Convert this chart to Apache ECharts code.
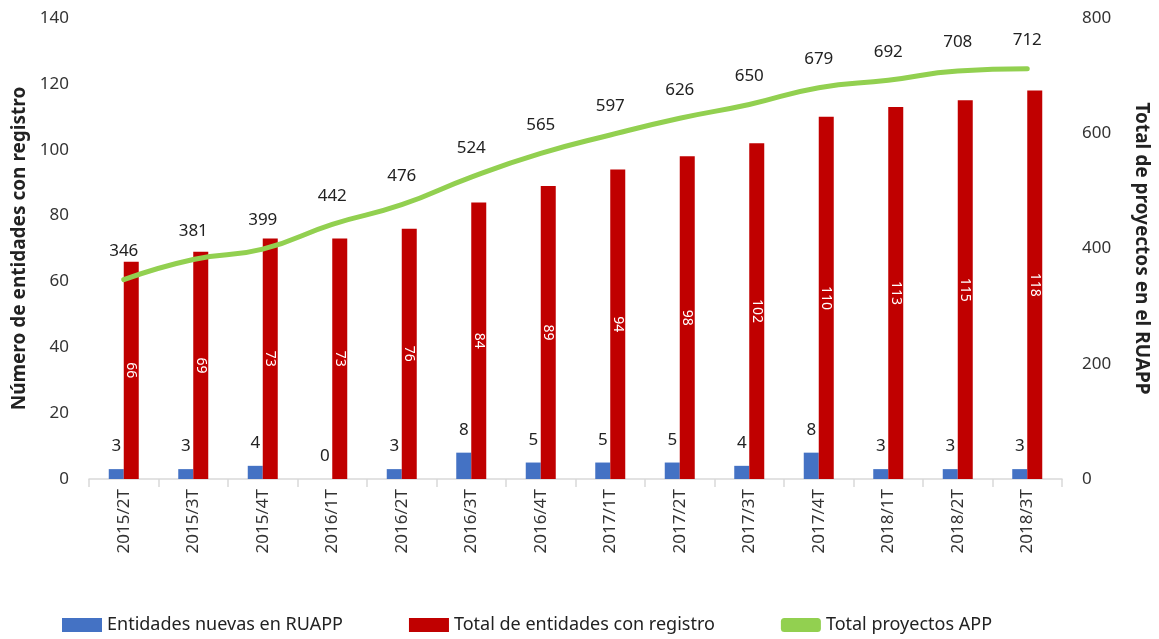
<!DOCTYPE html>
<html>
<head>
<meta charset="utf-8">
<script src="https://cdn.jsdelivr.net/npm/echarts@6/dist/echarts.min.js"></script>
<style>
  html, body { margin: 0; padding: 0; background: #fff; }
  #chart { width: 1159px; height: 639px; }
</style>
</head>
<body>
<div id="chart"></div>
<script>
var categories = ['2015/2T', '2015/3T', '2015/4T', '2016/1T', '2016/2T', '2016/3T', '2016/4T',
                  '2017/1T', '2017/2T', '2017/3T', '2017/4T', '2018/1T', '2018/2T', '2018/3T'];
var nuevas = [3, 3, 4, 0, 3, 8, 5, 5, 5, 4, 8, 3, 3, 3];
var totalEntidades = [66, 69, 73, 73, 76, 84, 89, 94, 98, 102, 110, 113, 115, 118];
var totalProyectos = [346, 381, 399, 442, 476, 524, 565, 597, 626, 650, 679, 692, 708, 712];

var fontName = 'Noto Sans';
var chart = echarts.init(document.getElementById('chart'));

var options = {
    animation: false,
    textStyle: { fontFamily: fontName },
    grid: { left: 89, right: 93, top: 18, bottom: 160 },
    legend: {
        bottom: 0,
        left: 57,
        itemGap: 66,
        itemWidth: 40,
        itemHeight: 14,
        textStyle: { fontSize: 18, color: '#222', fontFamily: fontName },
        data: [
            { name: 'Entidades nuevas en RUAPP', icon: 'rect' },
            { name: 'Total de entidades con registro', icon: 'rect' },
            { name: 'Total proyectos APP', icon: 'roundRect' }
        ]
    },
    xAxis: {
        type: 'category',
        data: categories,
        axisLine: { lineStyle: { color: '#d9d9d9', width: 1.5 } },
        axisTick: { show: true, length: 8, lineStyle: { color: '#d9d9d9', width: 1.5 } },
        axisLabel: { rotate: 90, fontSize: 17, color: '#333', margin: 10, interval: 0 }
    },
    yAxis: [
        {
            type: 'value',
            min: 0,
            max: 140,
            interval: 20,
            name: 'Número de entidades con registro',
            nameLocation: 'middle',
            nameGap: 60,
            nameTextStyle: { fontSize: 19, fontWeight: 'bold', color: '#222' },
            axisLine: { show: false },
            axisTick: { show: false },
            splitLine: { show: false },
            axisLabel: { fontSize: 17, color: '#333', margin: 20 }
        },
        {
            type: 'value',
            min: 0,
            max: 800,
            interval: 200,
            position: 'right',
            name: 'Total de proyectos en el RUAPP',
            nameLocation: 'middle',
            nameRotate: -90,
            nameGap: 70,
            nameTextStyle: { fontSize: 19, fontWeight: 'bold', color: '#222' },
            axisLine: { show: false },
            axisTick: { show: false },
            splitLine: { show: false },
            axisLabel: { fontSize: 17, color: '#333', margin: 20 }
        }
    ],
    series: [
        {
            name: 'Entidades nuevas en RUAPP',
            type: 'bar',
            data: nuevas,
            barWidth: 15,
            barGap: '0%',
            itemStyle: { color: '#4472C4' },
            label: {
                show: true,
                position: 'top',
                distance: 14,
                fontSize: 17,
                color: '#222'
            }
        },
        {
            name: 'Total de entidades con registro',
            type: 'bar',
            data: totalEntidades,
            barWidth: 15,
            barGap: '0%',
            itemStyle: { color: '#C00000' },
            label: {
                show: true,
                position: 'inside',
                rotate: -90,
                fontSize: 14,
                color: '#fff'
            }
        },
        {
            name: 'Total proyectos APP',
            type: 'line',
            yAxisIndex: 1,
            data: totalProyectos,
            smooth: true,
            symbol: 'circle',
            symbolSize: 0,
            showSymbol: true,
            lineStyle: { color: '#92D050', width: 5, cap: 'round' },
            itemStyle: { color: '#92D050' },
            label: {
                show: true,
                position: 'top',
                distance: 20,
                fontSize: 17,
                color: '#222'
            },
            z: 5
        }
    ]
};

chart.setOption(options);
</script>
</body>
</html>
